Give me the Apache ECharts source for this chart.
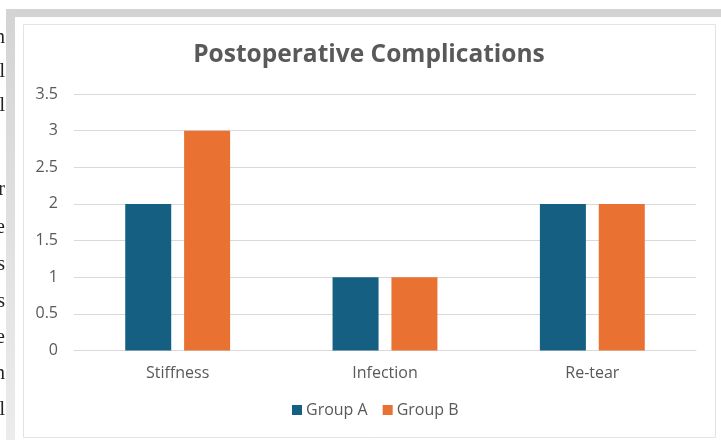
<!DOCTYPE html>
<html>
<head>
<meta charset="utf-8">
<script src="https://cdn.jsdelivr.net/npm/echarts@6/dist/echarts.min.js"></script>
<style>
html,body{margin:0;padding:0;background:#fff;}
#c{width:721px;height:440px;}
</style>
</head>
<body>
<div id="c"></div>
<script>
const categories = ['Stiffness', 'Infection', 'Re-tear'];
const groupA = [2, 1, 2];
const groupB = [3, 1, 2];
const seriesNames = ['Group A', 'Group B'];
const titleText = 'Postoperative Complications';
const marginLetters = ['n', 'l', 'l', 'r', 'e', 's', 's', 'e', 'n', 'l'];
const marginLetterY = [38, 72, 106, 190, 228, 265, 302, 338, 374, 410];

const font = '"Open Sans", sans-serif';
const textColor = '#595959';

const chart = echarts.init(document.getElementById('c'), null, {renderer: 'canvas'});

const graphics = [
  {type: 'rect', z: -10, shape: {x: 6, y: 9, width: 715, height: 8}, style: {fill: '#d3d3d3'}, silent: true},
  {type: 'rect', z: -10, shape: {x: 6, y: 9, width: 9, height: 431},
    style: {fill: new echarts.graphic.LinearGradient(0, 0, 0, 1, [
      {offset: 0, color: '#d4d4d4'}, {offset: 1, color: '#ececec'}])}, silent: true},
  {type: 'rect', z: -9, shape: {x: 23.5, y: 24.5, width: 692, height: 413},
    style: {fill: '#ffffff', stroke: '#e3e3e3', lineWidth: 1}, silent: true}
];
marginLetters.forEach((ch, i) => {
  graphics.push({type: 'text', z: -10, silent: true, x: 5, y: marginLetterY[i],
    style: {text: ch, fill: '#222', font: '20px "Liberation Serif", serif', align: 'right', verticalAlign: 'middle'}});
});

chart.setOption({
  animation: false,
  title: {
    text: titleText, left: 364, top: 38, textAlign: 'center',
    textStyle: {fontFamily: font, fontSize: 24.5, fontWeight: 'bold', color: textColor}
  },
  legend: {
    data: seriesNames, bottom: 17, left: 287, icon: 'rect',
    itemWidth: 10, itemHeight: 10, itemGap: 15,
    textStyle: {fontFamily: font, fontSize: 16, color: textColor, padding: [0, 0, 0, -1]}
  },
  graphic: graphics,
  grid: {left: 74, right: 25, top: 94, bottom: 89.5, containLabel: false},
  xAxis: {
    type: 'category', data: categories,
    axisLine: {lineStyle: {color: '#d9d9d9'}},
    axisTick: {show: false},
    axisLabel: {fontFamily: font, fontSize: 16, color: textColor, margin: 15}
  },
  yAxis: {
    type: 'value', min: 0, max: 3.5, interval: 0.5,
    axisLine: {show: false}, axisTick: {show: false},
    splitLine: {lineStyle: {color: '#d9d9d9'}},
    axisLabel: {fontFamily: font, fontSize: 16, color: textColor, margin: 16}
  },
  series: [
    {name: seriesNames[0], type: 'bar', data: groupA, barWidth: 46, barGap: '28%',
     itemStyle: {color: '#156082'}},
    {name: seriesNames[1], type: 'bar', data: groupB, barWidth: 46, barGap: '28%',
     itemStyle: {color: '#E97132'}}
  ]
});
</script>
</body>
</html>
